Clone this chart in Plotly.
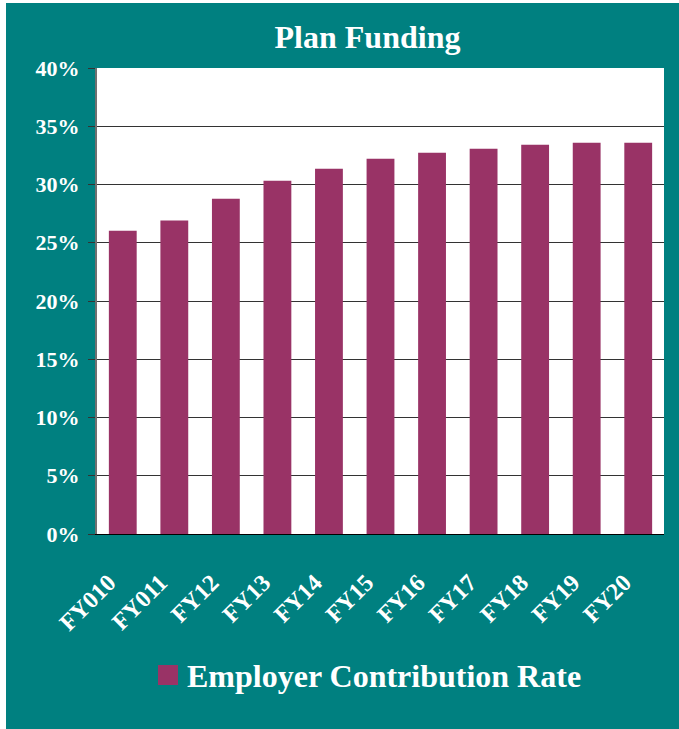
import plotly.graph_objects as go

# Employer contribution rate by fiscal year (fraction of payroll)
fiscal_years = ["FY010", "FY011", "FY12", "FY13", "FY14", "FY15",
                "FY16", "FY17", "FY18", "FY19", "FY20"]
employer_rate = [0.2603, 0.2690, 0.2878, 0.3033, 0.3136, 0.3221,
                 0.3273, 0.3307, 0.3341, 0.3358, 0.3358]
series_name = "Employer Contribution Rate"
chart_title = "Plan Funding"

W, H = 679, 729
M_L, M_R, M_T, M_B = 97, 15, 68, 195
PLOT_W = W - M_L - M_R
PLOT_H = H - M_T - M_B

TEAL = "#008080"
PLUM = "#993366"
FONT = "Liberation Serif"


def px_x(px):
    """Horizontal page pixel -> paper coordinate."""
    return (px - M_L) / PLOT_W


def px_y(py):
    """Vertical page pixel (from top) -> paper coordinate."""
    return (H - M_B - py) / PLOT_H


fig = go.Figure()
fig.add_trace(go.Bar(
    x=fiscal_years,
    y=employer_rate,
    name=series_name,
    marker=dict(color=PLUM, line=dict(width=0)),
    showlegend=False,
))

shapes = [
    # white page edge on the left and top of the teal panel
    dict(type="rect", xref="paper", yref="paper", layer="below",
         x0=px_x(-5), x1=px_x(6), y0=px_y(H + 5), y1=px_y(-5),
         fillcolor="white", line=dict(width=0)),
    dict(type="rect", xref="paper", yref="paper", layer="below",
         x0=px_x(-5), x1=px_x(W + 5), y0=px_y(3), y1=px_y(-5),
         fillcolor="white", line=dict(width=0)),
    # legend swatch
    dict(type="rect", xref="paper", yref="paper",
         x0=px_x(158), x1=px_x(178), y0=px_y(685), y1=px_y(665),
         fillcolor=PLUM, line=dict(width=0)),
]

annotations = [
    dict(text=series_name, xref="paper", yref="paper",
         x=px_x(185), y=px_y(676), xanchor="left", yanchor="middle",
         showarrow=False,
         font=dict(family=FONT, size=32, color="white", weight="bold")),
]

fig.update_layout(
    width=W, height=H,
    margin=dict(l=M_L, r=M_R, t=M_T, b=M_B, pad=0),
    paper_bgcolor=TEAL,
    plot_bgcolor="white",
    bargap=0.46,
    title=dict(text=chart_title, xref="container", yref="container",
               x=367.5 / W, y=1 - 37 / H, xanchor="center", yanchor="middle",
               font=dict(family=FONT, size=32, color="white", weight="bold")),
    xaxis=dict(
        showgrid=False,
        showline=True, linecolor="black", linewidth=1,
        ticks="",
        tickangle=-45,
        tickfont=dict(family=FONT, size=24, color="white", weight="bold"),
        ticklabelstandoff=24,
        ticklabelshift=-14,
    ),
    yaxis=dict(
        range=[0, 0.40],
        dtick=0.05,
        tickformat=".0%",
        showgrid=True, gridcolor="#333333", gridwidth=1,
        zeroline=False,
        showline=True, linecolor="#707070", linewidth=2,
        ticks="outside", ticklen=7, tickcolor="#333333", tickwidth=1,
        tickfont=dict(family=FONT, size=22, color="white", weight="bold"),
        ticklabelstandoff=4,
    ),
    shapes=shapes,
    annotations=annotations,
)

fig.write_html("out.html")
